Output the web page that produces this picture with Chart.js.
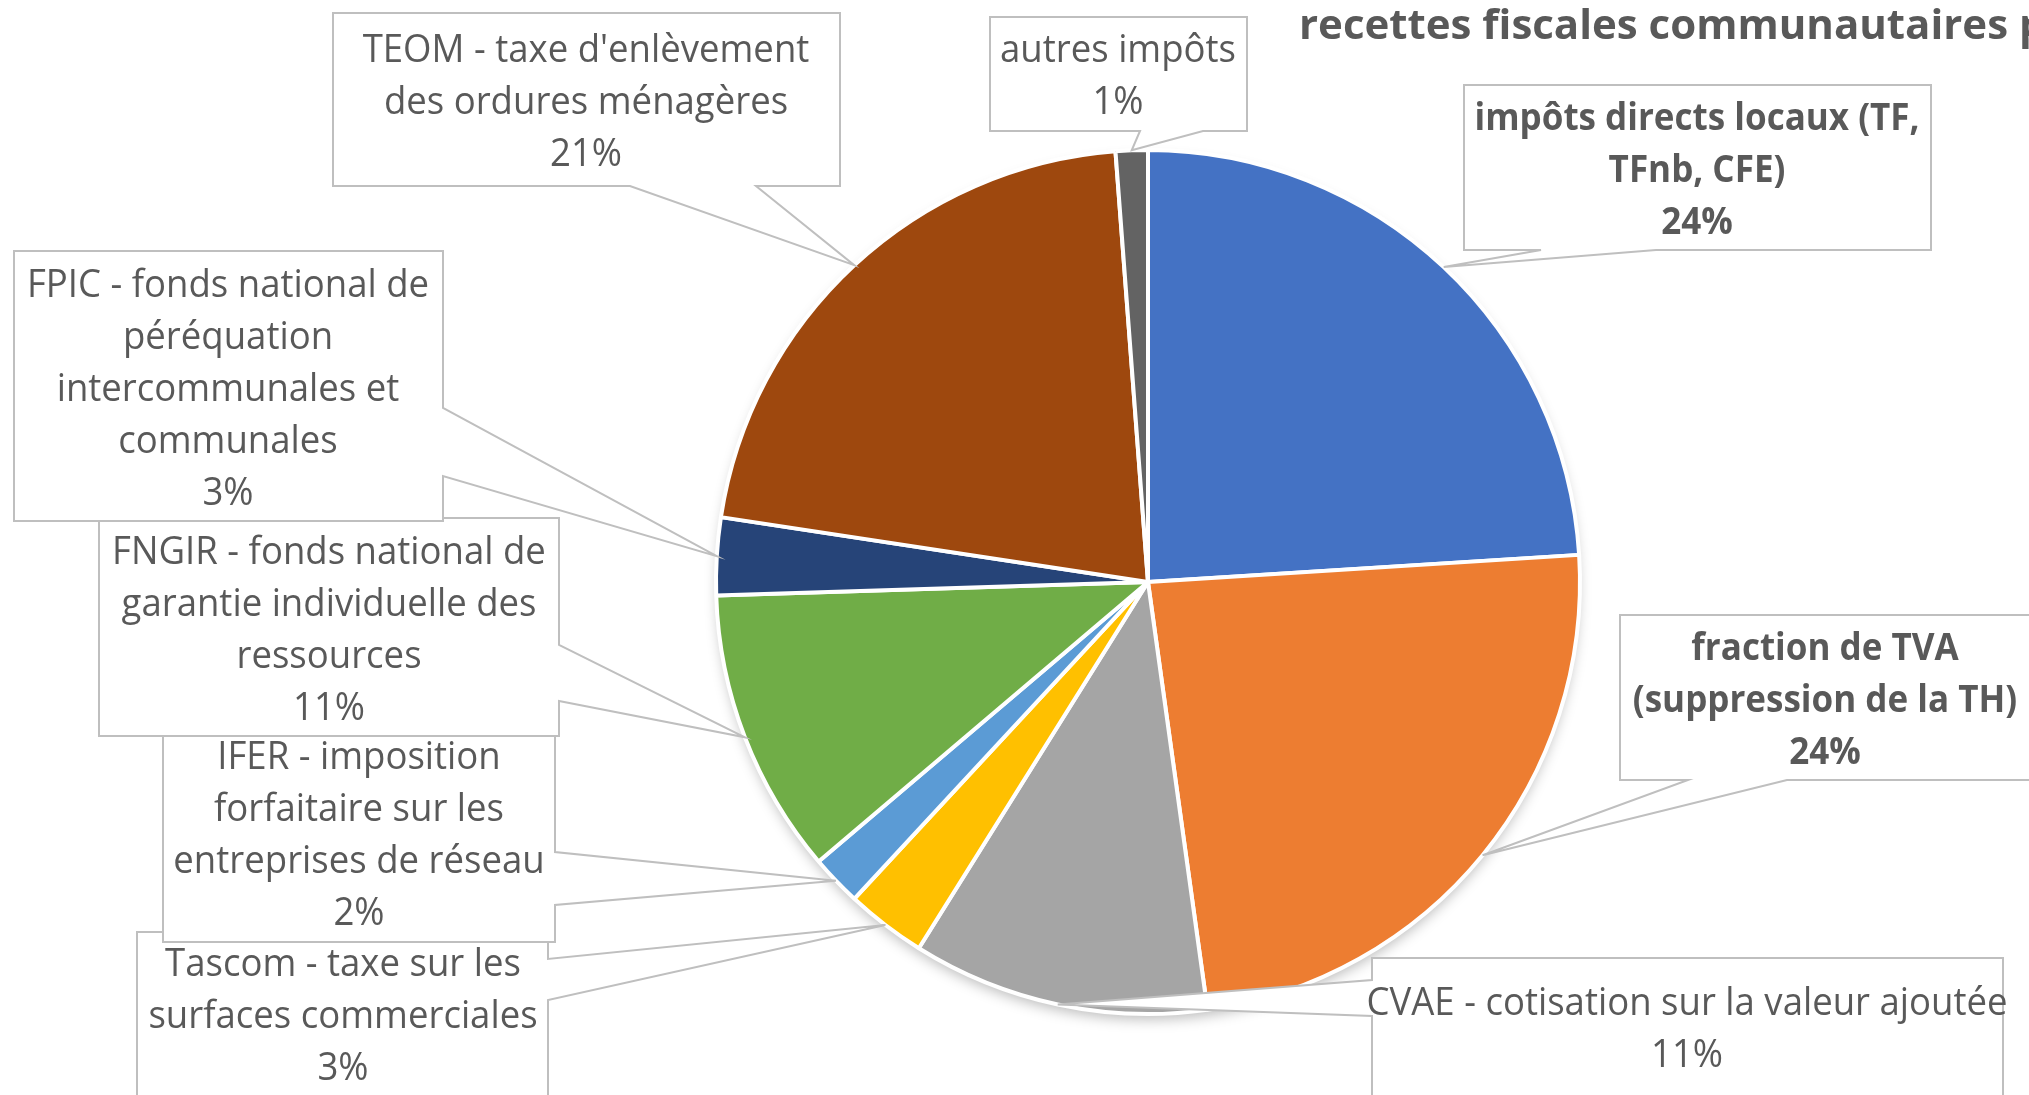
<!DOCTYPE html>
<html>
<head>
<meta charset="utf-8">
<script src="https://cdn.jsdelivr.net/npm/chart.js@4.4.1/dist/chart.umd.min.js"></script>
<style>
html,body{margin:0;padding:0;background:#ffffff;overflow:hidden;}
#wrap{width:2029px;height:1095px;position:relative;}
canvas{display:block;}
</style>
</head>
<body>
<div id="wrap"><canvas id="c" width="2029" height="1095"></canvas></div>
<script>
// ---- data ----
const categories = [
  "impôts directs locaux (TF, TFnb, CFE)",
  "fraction de TVA (suppression de la TH)",
  "CVAE - cotisation sur la valeur ajoutée",
  "Tascom - taxe sur les surfaces commerciales",
  "IFER - imposition forfaitaire sur les entreprises de réseau",
  "FNGIR - fonds national de garantie individuelle des ressources",
  "FPIC - fonds national de péréquation intercommunales et communales",
  "TEOM - taxe d'enlèvement des ordures ménagères",
  "autres impôts"
];
const labelLines = [
  ["impôts directs locaux (TF,", "TFnb, CFE)"],
  ["fraction de TVA", "(suppression de la TH)"],
  ["CVAE - cotisation sur la valeur ajoutée"],
  ["Tascom - taxe sur les", "surfaces commerciales"],
  ["IFER - imposition", "forfaitaire sur les", "entreprises de réseau"],
  ["FNGIR - fonds national de", "garantie individuelle des", "ressources"],
  ["FPIC - fonds national de", "péréquation", "intercommunales et", "communales"],
  ["TEOM - taxe d'enlèvement", "des ordures ménagères"],
  ["autres impôts"]
];
const shares = [24.0, 23.8, 11.1, 3.0, 1.9, 10.7, 2.9, 21.4, 1.2];
const boldLabel = [true, true, false, false, false, false, false, false, false];
const titleText = "recettes fiscales communautaires p";

// ---- styles / layout ----
const sliceColors = ["#4472C4", "#ED7D31", "#A5A5A5", "#FFC000", "#5B9BD5", "#70AD47", "#264478", "#9E480E", "#636363"];
const calloutBoxes = [
  [1464, 85, 1931, 250],
  [1620, 615, 2036, 780],
  [1372, 958, 2003, 1140],
  [137, 932, 548, 1140],
  [163, 736, 555, 942],
  [99, 518, 559, 736],
  [14, 251, 443, 521],
  [333, 13, 840, 186],
  [990, 17, 1247, 131]
];
const calloutPointers = [
  ["bottom", 1541, 1656],
  ["bottom", 1688, 1787],
  ["left", 980, 1016],
  ["right", 959, 1000],
  ["right", 852, 905],
  ["right", 645, 701],
  ["right", 408, 476],
  ["bottom", 630, 756],
  ["bottom", 1140, 1203]
];
const calloutTextX = [1697, 1825, 1687, 343, 359, 329, 228, 586, 1118];
const calloutFirstLine = [119, 649, 1004, 965, 758, 553, 286, 51, 51];
const lineHeight = 52;
const textColor = "#595959";
const FONT = "'Open Sans', 'Noto Sans', sans-serif";

function textScale(ctx, font, sample, target) {
  ctx.save(); ctx.font = font;
  const w = ctx.measureText(sample).width;
  ctx.restore();
  return w > 0 ? target / w : 1;
}
function drawScaledText(ctx, str, x, y, sx, align) {
  ctx.save();
  ctx.translate(x, y);
  ctx.scale(sx, 1);
  ctx.textAlign = align || 'center';
  ctx.fillText(str, 0, 0);
  ctx.restore();
}

const shadowPlugin = {
  id: 'pieShadow',
  beforeDatasetsDraw(chart) {
    const meta = chart.getDatasetMeta(0);
    if (!meta.data.length) return;
    const a = meta.data[0];
    const ctx = chart.ctx;
    ctx.save();
    ctx.beginPath();
    ctx.arc(a.x, a.y, a.outerRadius - 2, 0, Math.PI * 2);
    ctx.fillStyle = '#ffffff';
    ctx.shadowColor = 'rgba(0,0,0,0.28)';
    ctx.shadowBlur = 14;
    ctx.shadowOffsetY = 7;
    ctx.fill();
    ctx.restore();
  }
};

const calloutPlugin = {
  id: 'callouts',
  afterDatasetsDraw(chart) {
    const ctx = chart.ctx;
    const meta = chart.getDatasetMeta(0);
    const total = shares.reduce((a, b) => a + b, 0);
    const fontN = "38px " + FONT;
    const fontB = "bold 38px " + FONT;
    const sxN = textScale(ctx, fontN, "autres impôts", 236);
    const sxB = textScale(ctx, fontB, "impôts directs locaux (TF,", 445);
    meta.data.forEach((arc, i) => {
      const p = arc.getProps(['x', 'y', 'startAngle', 'endAngle', 'outerRadius'], true);
      const mid = (p.startAngle + p.endAngle) / 2;
      const tx = p.x + Math.cos(mid) * p.outerRadius;
      const ty = p.y + Math.sin(mid) * p.outerRadius;
      const [x1, y1, x2, y2] = calloutBoxes[i];
      const [side, b1, b2] = calloutPointers[i];
      ctx.save();
      ctx.beginPath();
      if (side === 'bottom') {
        ctx.moveTo(x1, y1); ctx.lineTo(x2, y1); ctx.lineTo(x2, y2);
        ctx.lineTo(b2, y2); ctx.lineTo(tx, ty); ctx.lineTo(b1, y2);
        ctx.lineTo(x1, y2); ctx.closePath();
      } else if (side === 'right') {
        ctx.moveTo(x1, y1); ctx.lineTo(x2, y1); ctx.lineTo(x2, b1);
        ctx.lineTo(tx, ty); ctx.lineTo(x2, b2); ctx.lineTo(x2, y2);
        ctx.lineTo(x1, y2); ctx.closePath();
      } else {
        ctx.moveTo(x1, y1); ctx.lineTo(x2, y1); ctx.lineTo(x2, y2);
        ctx.lineTo(x1, y2); ctx.lineTo(x1, b2); ctx.lineTo(tx, ty);
        ctx.lineTo(x1, b1); ctx.closePath();
      }
      ctx.fillStyle = '#ffffff';
      ctx.fill();
      ctx.lineJoin = 'miter';
      ctx.strokeStyle = '#BFBFBF';
      ctx.lineWidth = 2;
      ctx.stroke();
      // text
      const lines = labelLines[i].concat([Math.round(shares[i] / total * 100) + '%']);
      ctx.fillStyle = textColor;
      ctx.font = boldLabel[i] ? fontB : fontN;
      ctx.textBaseline = 'middle';
      const sx = boldLabel[i] ? sxB : sxN;
      lines.forEach((ln, k) => {
        drawScaledText(ctx, ln, calloutTextX[i], calloutFirstLine[i] + k * lineHeight, sx, 'center');
      });
      ctx.restore();
    });
    // title
    ctx.save();
    const fontT = "bold 42px " + FONT;
    const sxT = textScale(ctx, fontT, "recettes fiscales communautaires", 709);
    ctx.font = fontT;
    ctx.fillStyle = textColor;
    ctx.textBaseline = 'alphabetic';
    drawScaledText(ctx, titleText, 1299, 39, sxT, 'left');
    ctx.restore();
  }
};

new Chart(document.getElementById('c'), {
  type: 'pie',
  data: {
    labels: categories,
    datasets: [{
      data: shares,
      backgroundColor: sliceColors,
      borderColor: '#ffffff',
      borderWidth: 4
    }]
  },
  options: {
    responsive: false,
    animation: false,
    devicePixelRatio: 1,
    layout: { padding: { left: 714, right: 447, top: 148, bottom: 79 } },
    plugins: { legend: { display: false }, tooltip: { enabled: false }, title: { display: false } }
  },
  plugins: [shadowPlugin, calloutPlugin]
});
</script>
</body>
</html>
